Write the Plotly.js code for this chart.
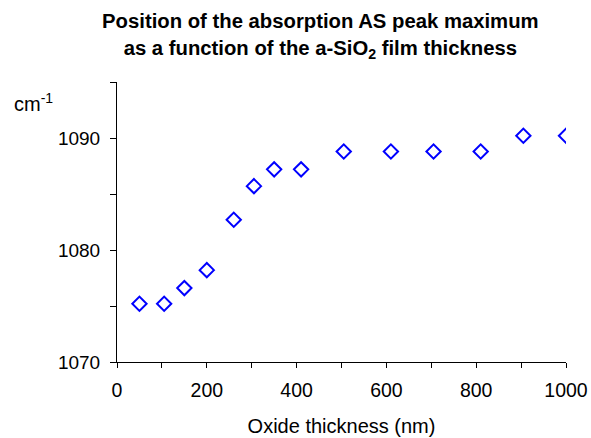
<!DOCTYPE html>
<html>
<head>
<meta charset="utf-8">
<script src="https://cdn.plot.ly/plotly-3.0.1.min.js"></script>
<style>html,body{margin:0;padding:0;background:#fff;}#chart{width:591px;height:438px;}</style>
</head>
<body>
<div id="chart"></div>
<script>
const thickness = [50, 105, 150, 200, 260, 305, 350, 410, 505, 610, 705, 810, 905, 1000];
const peakPosition = [1075.2, 1075.2, 1076.6, 1078.2, 1082.7, 1085.7, 1087.2, 1087.2, 1088.8, 1088.8, 1088.8, 1088.8, 1090.2, 1090.2];
const xTickValues = [0, 200, 400, 600, 800, 1000];
const yTickValues = [1070, 1080, 1090];

const FONT = 'Liberation Sans, Arial, sans-serif';

const trace = {
  x: thickness,
  y: peakPosition,
  type: 'scatter',
  mode: 'markers',
  marker: {symbol: 'diamond-open', size: 11, color: '#0000FF', line: {width: 2, color: '#0000FF'}},
  hoverinfo: 'x+y'
};

const layout = {
  width: 591,
  height: 438,
  margin: {l: 117, r: 25, t: 82, b: 76},
  paper_bgcolor: '#ffffff',
  plot_bgcolor: '#ffffff',
  showlegend: false,
  font: {family: FONT, size: 19, color: '#000'},
  title: {
    text: '<b>Position of the absorption AS peak maximum<br>as a function of the a-SiO<sub>2</sub> film thickness</b>',
    font: {family: FONT, size: 20.3, color: '#000'},
    xref: 'container', x: 0.542, xanchor: 'center',
    yref: 'container', y: 0.935, yanchor: 'top'
  },
  xaxis: {
    range: [0, 1000],
    tickvals: xTickValues,
    ticktext: xTickValues.map(String),
    ticks: 'outside', ticklen: 5, tickwidth: 1, tickcolor: '#000',
    minor: {dtick: 100, tick0: 0, ticks: 'outside', ticklen: 5, tickwidth: 1, tickcolor: '#000', showgrid: false},
    showline: true, linecolor: '#000', linewidth: 1,
    showgrid: false, zeroline: false,
    ticklabelstandoff: 6,
    tickfont: {family: FONT, size: 19.5, color: '#000'},
    title: {text: 'Oxide thickness (nm)', font: {family: FONT, size: 20, color: '#000'}, standoff: 18},
    fixedrange: true
  },
  yaxis: {
    range: [1070, 1095],
    tickvals: yTickValues,
    ticktext: yTickValues.map(String),
    ticks: 'outside', ticklen: 6, tickwidth: 1, tickcolor: '#000',
    minor: {dtick: 5, tick0: 1070, ticks: 'outside', ticklen: 6, tickwidth: 1, tickcolor: '#000', showgrid: false},
    showline: true, linecolor: '#000', linewidth: 1,
    showgrid: false, zeroline: false,
    ticklabelstandoff: 6,
    tickfont: {family: FONT, size: 19, color: '#000'},
    fixedrange: true
  },
  annotations: [{
    text: 'cm<sup>-1</sup>',
    xref: 'paper', yref: 'paper',
    x: (12 - 117) / 449, xanchor: 'left',
    y: (362 - 103) / 280, yanchor: 'middle',
    showarrow: false,
    font: {family: FONT, size: 20, color: '#000'}
  }]
};

Plotly.newPlot('chart', [trace], layout, {displayModeBar: false, staticPlot: true});
</script>
</body>
</html>
